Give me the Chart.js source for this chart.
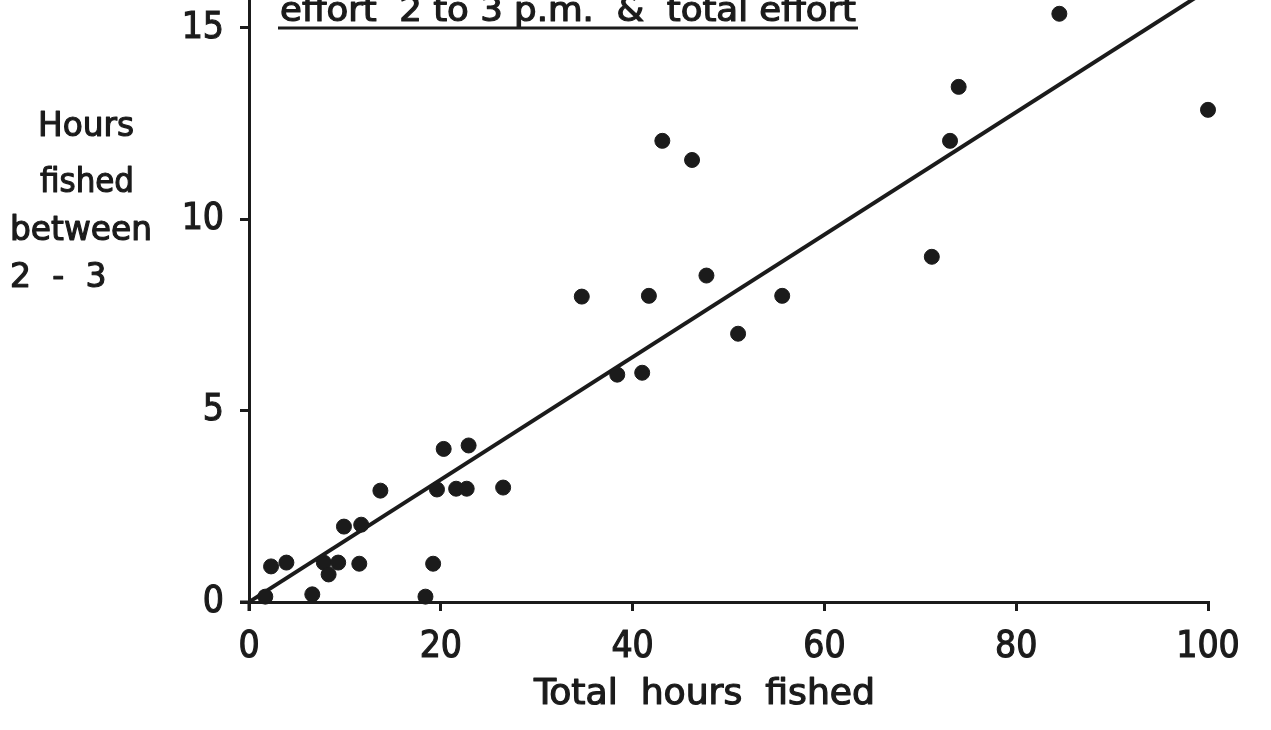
<!DOCTYPE html>
<html>
<head>
<meta charset="utf-8">
<title>Hours fished 2-3 p.m. vs total hours fished</title>
<script src="https://cdn.jsdelivr.net/npm/chart.js@4/dist/chart.umd.min.js"></script>
<style>
  html, body { margin: 0; padding: 0; background: #ffffff; }
  canvas { display: block; }
</style>
</head>
<body>
<canvas id="chart" width="1271" height="730"></canvas>
<script>
// Total hours fished per day (x) and hours fished between 2 and 3 p.m. (y)
const totalHours = [
  84.5, 74.0, 100, 73.1, 43.1, 46.2, 71.2, 47.7, 34.7, 41.7, 55.6,
  51.0, 38.4, 41.0, 20.3, 22.9, 26.5, 13.7, 19.6, 21.6, 22.7, 9.9,
  11.7, 2.3, 3.9, 7.8, 9.3, 8.3, 11.5, 19.2, 6.6, 18.4, 1.7
];
const hours2to3 = [
  15.37, 13.46, 12.86, 12.05, 12.05, 11.55, 9.02, 8.53, 7.98, 8.0, 8.0,
  7.01, 5.94, 5.99, 4.0, 4.09, 2.99, 2.91, 2.94, 2.96, 2.96, 1.97,
  2.02, 0.93, 1.03, 1.03, 1.03, 0.72, 1.0, 1.0, 0.2, 0.14, 0.14
];

// Fitted straight line through the points
const fitSlope = 0.16;
const fitIntercept = 0;
const fitRange = [0, 100];

const xTicks = [0, 20, 40, 60, 80, 100];
const yTicks = [0, 5, 10, 15];

const titleText = 'effort  2 to 3 p.m.  &  total effort';
const xTitle = 'Total  hours  fished';
const yTitleLines = ['Hours', 'fished', 'between', '2 - 3'];

const INK = '#1b1b1b';
const FONT = "'DejaVu Sans Condensed', 'DejaVu Sans', sans-serif";

const points = totalHours.map((x, i) => ({ x: x, y: hours2to3[i] }));
const fitLine = fitRange.map(x => ({ x: x, y: fitIntercept + fitSlope * x }));

// draws text squeezed/stretched to span [left, right], slightly thickened
function fitText(ctx, text, left, right, baseline) {
  const w = ctx.measureText(text).width;
  ctx.save();
  ctx.translate(left, baseline);
  ctx.scale((right - left) / w, 1);
  ctx.textAlign = 'left';
  ctx.textBaseline = 'alphabetic';
  ctx.lineWidth = 1.1;
  ctx.lineJoin = 'round';
  ctx.fillText(text, 0, 0);
  ctx.strokeText(text, 0, 0);
  ctx.restore();
}

const textPlugin = {
  id: 'handLabels',
  afterDraw(chart) {
    const ctx = chart.ctx;
    const xs = chart.scales.x, ys = chart.scales.y;
    ctx.save();
    ctx.fillStyle = INK;
    ctx.strokeStyle = INK;

    // small axis overhangs past the origin
    ctx.lineWidth = 3;
    ctx.beginPath();
    ctx.moveTo(xs.left - 9, ys.bottom);
    ctx.lineTo(xs.left, ys.bottom);
    ctx.moveTo(xs.left, ys.bottom);
    ctx.lineTo(xs.left, ys.bottom + 9);
    ctx.stroke();

    // underlined heading along the top edge
    ctx.font = '33px ' + FONT;
    fitText(ctx, titleText, 280, 856, 21);
    ctx.lineWidth = 3;
    ctx.beginPath();
    ctx.moveTo(278, 28);
    ctx.lineTo(858, 28);
    ctx.stroke();

    // x-axis caption
    ctx.font = '35px ' + FONT;
    fitText(ctx, xTitle, 534, 875, 704);

    // horizontal y-axis caption
    ctx.font = '34px ' + FONT;
    fitText(ctx, yTitleLines[0], 38, 134, 136);
    fitText(ctx, yTitleLines[1], 40, 134, 192);
    fitText(ctx, yTitleLines[2], 10, 152, 240);
    ctx.letterSpacing = '5px';
    fitText(ctx, yTitleLines[3], 10, 112, 287);
    ctx.letterSpacing = '0px';
    ctx.restore();
  }
};

new Chart(document.getElementById('chart'), {
  type: 'scatter',
  data: {
    datasets: [
      {
        label: 'Days',
        data: points,
        pointRadius: 7.5,
        pointHoverRadius: 7.5,
        pointBackgroundColor: INK,
        pointBorderColor: INK,
        pointBorderWidth: 1,
        showLine: false,
        clip: false
      },
      {
        label: 'Fitted line',
        type: 'line',
        data: fitLine,
        borderColor: INK,
        borderWidth: 4,
        pointRadius: 0,
        fill: false,
        tension: 0
      }
    ]
  },
  options: {
    responsive: false,
    animation: false,
    events: [],
    layout: { autoPadding: false, padding: { top: 0, right: 63, bottom: 0, left: 0 } },
    plugins: {
      legend: { display: false },
      tooltip: { enabled: false },
      title: { display: false }
    },
    scales: {
      x: {
        type: 'linear',
        min: 0,
        max: 100,
        afterBuildTicks: s => { s.ticks = xTicks.map(v => ({ value: v })); },
        afterFit: s => { s.height = 128; s.paddingLeft = 0; s.paddingRight = 0; },
        grid: { drawOnChartArea: false, drawTicks: true, tickLength: 9, color: INK, lineWidth: 3 },
        border: { display: true, color: INK, width: 3 },
        ticks: {
          color: INK, padding: 14, maxRotation: 0,
          font: { family: FONT, size: 37 },
          textStrokeColor: INK, textStrokeWidth: 1.1
        }
      },
      y: {
        type: 'linear',
        min: 0,
        max: 15.73,
        afterBuildTicks: s => { s.ticks = yTicks.map(v => ({ value: v })); },
        afterFit: s => { s.width = 249; s.paddingTop = 0; s.paddingBottom = 0; },
        grid: { drawOnChartArea: false, drawTicks: true, tickLength: 9, color: INK, lineWidth: 3 },
        border: { display: true, color: INK, width: 3 },
        ticks: {
          color: INK, padding: 16,
          font: { family: FONT, size: 37 },
          textStrokeColor: INK, textStrokeWidth: 1.1
        }
      }
    }
  },
  plugins: [textPlugin]
});
</script>
</body>
</html>
